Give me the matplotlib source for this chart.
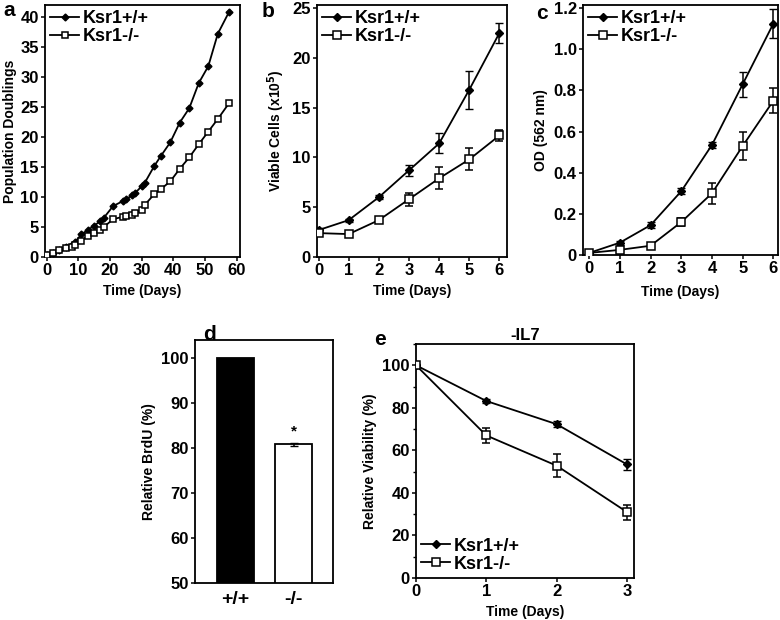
import matplotlib
matplotlib.use("Agg")
import matplotlib.pyplot as plt
from matplotlib.ticker import FuncFormatter, MultipleLocator

plt.rcParams['font.family'] = ['Liberation Sans', 'DejaVu Sans']
plt.rcParams['font.weight'] = 'bold'
plt.rcParams['axes.labelweight'] = 'bold'

# panel a - population doublings
a_days = [0, 2, 4, 6, 8, 9, 11, 13, 15, 17, 18, 21, 24, 25, 27, 28, 30, 31,
          34, 36, 39, 42, 45, 48, 51, 54, 57.5]
a_wt = [0.3, 0.7, 1.2, 1.6, 2.0, 2.5, 3.8, 4.5, 5.2, 6.0, 6.5, 8.5, 9.3, 9.6,
        10.3, 10.7, 11.8, 12.4, 15.2, 16.8, 19.1, 22.4, 24.8, 29.0, 31.8,
        37.2, 40.8]
a_ko = [0.3, 0.6, 1.1, 1.5, 1.6, 2.0, 2.7, 3.5, 4.0, 4.5, 5.0, 6.3, 6.7, 6.8,
        7.0, 7.3, 7.9, 8.7, 10.5, 11.3, 12.6, 14.7, 16.6, 18.8, 20.9, 23.0,
        25.6]

# panel b - viable cells (x10^5)
b_days = [0, 1, 2, 3, 4, 5, 6]
b_wt = [2.7, 3.7, 6.0, 8.7, 11.4, 16.8, 22.5]
b_wt_err = [0.2, 0.15, 0.2, 0.55, 1.0, 1.9, 1.0]
b_ko = [2.4, 2.3, 3.7, 5.8, 7.9, 9.8, 12.2]
b_ko_err = [0.3, 0.2, 0.3, 0.65, 1.1, 1.1, 0.6]

# panel c - OD 562 nm
c_days = [0, 1, 2, 3, 4, 5, 6]
c_wt = [0.01, 0.06, 0.145, 0.31, 0.535, 0.83, 1.125]
c_wt_err = [0.005, 0.01, 0.015, 0.015, 0.015, 0.06, 0.07]
c_ko = [0.01, 0.025, 0.045, 0.16, 0.30, 0.53, 0.75]
c_ko_err = [0.005, 0.005, 0.01, 0.02, 0.05, 0.07, 0.06]

# panel d - relative BrdU
d_groups = ['+/+', '-/-']
d_vals = [100, 80.8]
d_err = [0, 0.35]

# panel e - relative viability, -IL7
e_days = [0, 1, 2, 3]
e_wt = [100, 83.2, 72.3, 53.4]
e_wt_err = [0.5, 1.0, 1.5, 2.5]
e_ko = [100, 67.0, 52.8, 31.0]
e_ko_err = [0.5, 3.5, 5.5, 3.5]

fig = plt.figure(figsize=(7.8, 6.2), dpi=100)


def px_axes(left, top, right, bottom):
    return fig.add_axes([left / 780, 1 - bottom / 620,
                         (right - left) / 780, (bottom - top) / 620])


def style(ax):
    for s in ax.spines.values():
        s.set_linewidth(1.3)
    ax.tick_params(direction='out', length=3, width=1.1, labelsize=12, pad=1.5)
    for lab in ax.get_xticklabels() + ax.get_yticklabels():
        lab.set_fontweight('bold')


def two_lines(ax, x, y1, y2, e1=None, e2=None, ms1=4, ms2=5.5):
    ax.errorbar(x, y1, yerr=e1, color='black', lw=1.3, marker='D', ms=ms1,
                mfc='black', mec='black', capsize=3, elinewidth=1.1,
                label='Ksr1+/+', zorder=3)
    ax.errorbar(x, y2, yerr=e2, color='black', lw=1.3, marker='s', ms=ms2,
                mfc='white', mec='black', mew=1.1, capsize=3, elinewidth=1.1,
                label='Ksr1-/-', zorder=3)


def legend(ax, loc):
    h, l = ax.get_legend_handles_labels()
    h = [x[0] for x in h]
    ax.legend(h, l, loc=loc, frameon=False, handlelength=1.6,
              handletextpad=0.2, labelspacing=0.05, borderaxespad=0.1,
              borderpad=0.2, prop={'size': 13, 'weight': 'bold'})


# a
ax = px_axes(45, 5, 240, 257)
two_lines(ax, a_days, a_wt, a_ko, ms1=3.5, ms2=5)
ax.set_xlim(-0.5, 61)
ax.set_ylim(0, 42)
ax.set_xticks([0, 10, 20, 30, 40, 50, 60])
ax.set_yticks(range(0, 41, 5))
ax.set_xlabel('Time (Days)', fontsize=10, labelpad=4)
ax.set_ylabel('Population Doublings', fontsize=10, labelpad=2)
legend(ax, 'upper left')
style(ax)
fig.text(3 / 780, 1 - 16 / 620, 'a', fontsize=15, fontweight='bold')

# b
ax = px_axes(317, 5, 507, 257)
two_lines(ax, b_days, b_wt, b_ko, b_wt_err, b_ko_err)
ax.set_xlim(-0.05, 6.25)
ax.set_ylim(0, 25.3)
ax.set_xticks(b_days)
ax.set_yticks(range(0, 26, 5))
ax.set_xlabel('Time (Days)', fontsize=10, labelpad=4)
ax.set_ylabel('Viable Cells (x10$^{5}$)', fontsize=10, labelpad=4)
legend(ax, 'upper left')
style(ax)
fig.text(262 / 780, 1 - 17 / 620, 'b', fontsize=15, fontweight='bold')

# c
ax = px_axes(583, 5, 778, 255)
two_lines(ax, c_days, c_wt, c_ko, c_wt_err, c_ko_err)
ax.set_xlim(-0.2, 6.15)
ax.set_ylim(0, 1.215)
ax.set_xticks(c_days)
ax.set_yticks([0, 0.2, 0.4, 0.6, 0.8, 1.0, 1.2])
ax.yaxis.set_major_formatter(FuncFormatter(lambda v, p: '0' if v == 0 else f'{v:.1f}'))
ax.set_xlabel('Time (Days)', fontsize=10, labelpad=6)
ax.set_ylabel('OD (562 nm)', fontsize=10, labelpad=4)
legend(ax, 'upper left')
style(ax)
fig.text(536 / 780, 1 - 19 / 620, 'c', fontsize=15, fontweight='bold')

# d
ax = px_axes(195, 340, 333, 583)
ax.bar([0, 1], d_vals, width=0.65, color=['black', 'white'], edgecolor='black',
       linewidth=1.3, zorder=2)
ax.errorbar([1], d_vals[1], yerr=d_err[1], color='black', capsize=3, lw=1.1)
ax.text(1, d_vals[1] + 1.3, '*', ha='center', va='bottom', fontsize=11)
ax.set_xlim(-0.7, 1.68)
ax.set_ylim(50, 104)
ax.set_yticks(range(50, 101, 10))
ax.set_xticks([0, 1])
ax.set_xticklabels(d_groups)
ax.set_ylabel('Relative BrdU (%)', fontsize=10, labelpad=4)
style(ax)
ax.tick_params(axis='x', length=0, labelsize=14, pad=6)
for lab in ax.get_xticklabels():
    lab.set_fontweight('bold')
fig.text(203 / 780, 1 - 340 / 620, 'd', fontsize=15, fontweight='bold')

# e
ax = px_axes(416, 344, 634, 578)
two_lines(ax, e_days, e_wt, e_ko, e_wt_err, e_ko_err)
ax.set_xlim(0, 3.1)
ax.set_ylim(0, 110)
ax.set_xticks(e_days)
ax.set_yticks(range(0, 101, 20))
ax.yaxis.set_minor_locator(MultipleLocator(10))
ax.tick_params(which='minor', length=2, width=1)
ax.set_title('-IL7', fontsize=12, fontweight='bold', pad=3)
ax.set_xlabel('Time (Days)', fontsize=10, labelpad=4)
ax.set_ylabel('Relative Viability (%)', fontsize=10, labelpad=4)
legend(ax, 'lower left')
style(ax)
fig.text(374 / 780, 1 - 345 / 620, 'e', fontsize=15, fontweight='bold')

fig.savefig('out.png', dpi=100)
